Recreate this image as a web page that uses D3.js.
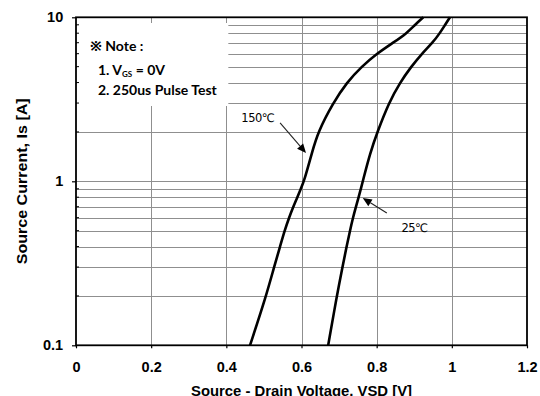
<!DOCTYPE html>
<html>
<head>
<meta charset="utf-8">
<script src="https://cdn.jsdelivr.net/npm/d3@7"></script>
<style>
  body { margin: 0; background: #fff; }
  svg { display: block; }
</style>
</head>
<body>
<div id="chart"></div>
<script>
// source current (A) and forward voltage
const current = [0.1, 0.2, 0.3, 0.4, 0.5, 0.6, 0.7, 0.8, 0.9, 1, 1.5, 2, 3, 4, 5, 6, 7, 8, 9, 10];
const vsd150 = [0.463, 0.506, 0.527, 0.543, 0.555, 0.567, 0.578, 0.589, 0.598, 0.607, 0.628, 0.644, 0.684, 0.72, 0.76, 0.8, 0.844, 0.88, 0.902, 0.924];
const vsd25 = [0.671, 0.694, 0.709, 0.72, 0.729, 0.737, 0.745, 0.752, 0.758, 0.763, 0.783, 0.802, 0.832, 0.862, 0.892, 0.92, 0.949, 0.968, 0.982, 0.995];

const xTicks = [0, 0.2, 0.4, 0.6, 0.8, 1, 1.2];
const yTicks = [0.1, 1, 10];

const width = 540, height = 396;
const margin = { top: 17.3, right: 13, bottom: 50.7, left: 76 };

const svg = d3.select("#chart").append("svg")
  .attr("width", width)
  .attr("height", height);

const x = d3.scaleLinear().domain([0, 1.2]).range([margin.left, width - margin.right]);
const y = d3.scaleLog().domain([0.1, 10]).range([height - margin.bottom, margin.top]);

// minor values for the log grid
const minor = [];
[0.1, 1].forEach(d => { for (let k = 1; k <= 9; k++) minor.push(d * k); });
minor.push(10);

const grid = svg.append("g").attr("stroke", "#8f8f8f").attr("stroke-width", 1);
grid.selectAll(".h").data(minor.filter(d => d > 0.1 && d < 10)).enter()
  .append("line")
  .attr("x1", x(0)).attr("x2", x(1.2))
  .attr("y1", d => Math.round(y(d)) + 0.5).attr("y2", d => Math.round(y(d)) + 0.5);
grid.selectAll(".v").data(xTicks.filter(d => d > 0 && d < 1.2)).enter()
  .append("line")
  .attr("y1", y(10)).attr("y2", y(0.1))
  .attr("x1", d => Math.round(x(d)) + 0.5).attr("x2", d => Math.round(x(d)) + 0.5);

// note box hides the grid in the top-left corner
svg.append("rect")
  .attr("x", x(0) + 1).attr("y", 23)
  .attr("width", x(0.4) - x(0) + 1).attr("height", 83)
  .attr("fill", "#fff");

// frame
svg.append("rect")
  .attr("x", x(0)).attr("y", y(10))
  .attr("width", x(1.2) - x(0)).attr("height", y(0.1) - y(10))
  .attr("fill", "none").attr("stroke", "#000").attr("stroke-width", 1.8);

// axes
const xAxis = d3.axisBottom(x).tickValues(xTicks).tickSize(3).tickFormat(d3.format("~g"));
const gx = svg.append("g").attr("transform", `translate(0,${y(0.1)})`).call(xAxis);
gx.select(".domain").remove();
gx.selectAll("text").attr("dy", "1.45em");

const yAxis = d3.axisLeft(y).tickValues(yTicks).tickSize(4).tickFormat(d3.format("~g"));
const gy = svg.append("g").attr("transform", `translate(${x(0)},0)`).call(yAxis);
gy.select(".domain").remove();
gy.selectAll("text").attr("dx", "-0.4em");

[gx, gy].forEach(g => {
  g.selectAll("text")
    .attr("fill", "#000")
    .style("font-family", "'Liberation Sans', Arial, sans-serif")
    .style("font-size", "14.5px")
    .style("font-weight", "bold");
  g.selectAll("line").attr("stroke", "#000").attr("stroke-width", 1.2);
});

// minor ticks on the left spine
svg.append("g").selectAll("line").data(minor.filter(d => d > 0.1 && d < 10 && d !== 1)).enter()
  .append("line")
  .attr("x1", x(0)).attr("x2", x(0) + 3)
  .attr("y1", d => y(d)).attr("y2", d => y(d))
  .attr("stroke", "#000").attr("stroke-width", 1);

// curves
const line = d3.line()
  .x(d => x(d[0]))
  .y(d => y(d[1]))
  .curve(d3.curveBasis);

[vsd150, vsd25].forEach(series => {
  svg.append("path")
    .datum(series.map((v, i) => [v, current[i]]))
    .attr("d", line)
    .attr("fill", "none")
    .attr("stroke", "#000")
    .attr("stroke-width", 2.6);
});

// annotations
const labels = [
  { text: "150℃", lx: 0.44, ly: 2.3, from: [0.543, 2.27], to: [0.612, 1.49] },
  { text: "25℃", lx: 0.866, ly: 0.49, from: [0.827, 0.641], to: [0.763, 0.79] }
];

labels.forEach(a => {
  svg.append("text")
    .attr("x", x(a.lx)).attr("y", y(a.ly))
    .style("font-family", "'DejaVu Sans', sans-serif")
    .style("font-size", "11.5px")
    .style("letter-spacing", "-0.5px")
    .text(a.text);

  const x1 = x(a.from[0]), y1 = y(a.from[1]);
  const x2 = x(a.to[0]), y2 = y(a.to[1]);
  const ang = Math.atan2(y2 - y1, x2 - x1);
  const len = 9, half = 4;
  const bx = x2 - len * Math.cos(ang), by = y2 - len * Math.sin(ang);
  svg.append("line")
    .attr("x1", x1).attr("y1", y1).attr("x2", bx).attr("y2", by)
    .attr("stroke", "#222").attr("stroke-width", 1.1);
  svg.append("path")
    .attr("d", `M${x2},${y2}L${bx + half * Math.sin(ang)},${by - half * Math.cos(ang)}L${bx - half * Math.sin(ang)},${by + half * Math.cos(ang)}Z`)
    .attr("fill", "#000");
});

// note
const note = svg.append("g")
  .style("font-family", "Lato, 'Noto Sans', sans-serif")
  .style("font-weight", "bold")
  .style("font-size", "14px");
note.append("text").attr("x", 90).attr("y", 51).text("※ Note :");
const l1 = note.append("text").attr("x", 98).attr("y", 75);
l1.append("tspan").text("1. V");
l1.append("tspan").attr("dy", 2).style("font-size", "8px").text("GS");
l1.append("tspan").attr("dy", -2).text(" = 0V");
note.append("text").attr("x", 98).attr("y", 95).text("2. 250us Pulse Test");

// axis titles
const titleStyle = sel => sel
  .style("font-family", "'Liberation Sans', Arial, sans-serif")
  .style("font-size", "14.5px")
  .style("font-weight", "bold")
  .attr("text-anchor", "middle")
  .attr("lengthAdjust", "spacingAndGlyphs");

svg.append("text")
  .attr("x", (x(0) + x(1.2)) / 2)
  .attr("y", 396)
  .call(titleStyle)
  .attr("textLength", 221)
  .text("Source - Drain Voltage, VSD [V]");

svg.append("text")
  .attr("transform", `translate(27,${(y(0.1) + y(10)) / 2}) rotate(-90)`)
  .call(titleStyle)
  .attr("textLength", 166)
  .text("Source Current, Is [A]");
</script>
</body>
</html>
